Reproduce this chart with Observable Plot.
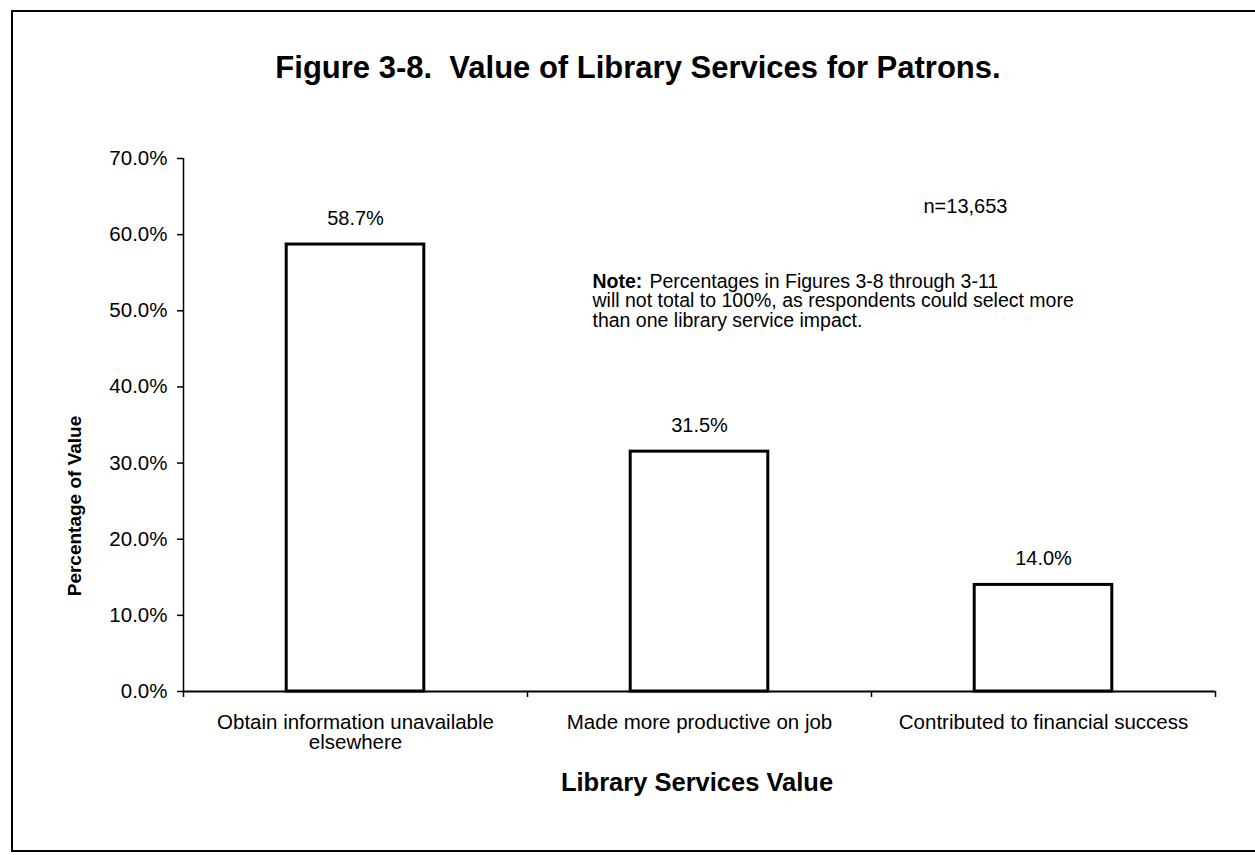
<!DOCTYPE html>
<html>
<head>
<meta charset="utf-8">
<script src="https://cdn.jsdelivr.net/npm/d3@7"></script>
<script src="https://cdn.jsdelivr.net/npm/@observablehq/plot@0.6"></script>
<style>
  html, body { margin: 0; padding: 0; background: #fff; }
  #page {
    position: relative; width: 1255px; height: 855px; overflow: hidden;
    font-family: "Liberation Sans", Arial, sans-serif; color: #000; background: #fff;
  }
  #border {
    position: absolute; left: 11px; top: 10px; width: 1270px; height: 842px;
    border: 2px solid #000; border-right: none; box-sizing: border-box; pointer-events: none;
  }
  #title {
    height: 100px; box-sizing: border-box; padding-top: 53px; padding-left: 21px;
    text-align: center; font-weight: bold; font-size: 31px; line-height: 30px; white-space: pre;
  }
  #ytitle {
    position: absolute; left: 74px; top: 506px; white-space: nowrap;
    font-weight: bold; font-size: 19px; line-height: 19px;
    transform: translate(-50%, -50%) rotate(-90deg);
  }
  #chart svg { display: block; }
</style>
</head>
<body>
<div id="page">
  <div id="title">Figure 3-8.  Value of Library Services for Patrons.</div>
  <div id="chart"></div>
  <div id="ytitle"></div>
  <div id="border"></div>
</div>
<script>
// Survey responses: share of patrons reporting each kind of value
const categories = [
  "Obtain information unavailable elsewhere",
  "Made more productive on job",
  "Contributed to financial success"
];
const categoryLabels = [
  "Obtain information unavailable\nelsewhere",
  "Made more productive on job",
  "Contributed to financial success"
];
const percentages = [58.7, 31.5, 14.0];
const yTicks = [0, 10, 20, 30, 40, 50, 60, 70];

const sampleLabel = "n=13,653";
const noteHead = "Note:";
const noteFirst = "Percentages in Figures 3-8 through 3-11";
const noteRest = "will not total to 100%, as respondents could select more\nthan one library service impact.";
const xTitle = "Library Services Value";
const yTitle = "Percentage of Value";

const data = categories.map((category, i) => ({category, value: percentages[i]}));

const W = 1255, H = 755;
const mL = 183, mR = 40, mT = 58, mB = 164;
// band step: inner padding 0.6 and outer 0.3 make each category slot exactly width/n
const step = (W - mL - mR) / categories.length;
const font = "'Liberation Sans', Arial, sans-serif";

document.getElementById("ytitle").textContent = yTitle;

const chart = Plot.plot({
  width: W,
  height: H,
  marginTop: mT,
  marginBottom: mB,
  marginLeft: mL,
  marginRight: mR,
  style: {fontFamily: font, fontSize: "20px", color: "black", background: "white", overflow: "visible"},
  x: {domain: categories, paddingInner: 0.6, paddingOuter: 0.3, round: false, axis: null},
  y: {domain: [0, 70], axis: null},
  marks: [
    Plot.barY(data, {x: "category", y: "value", fill: "white", stroke: "black", strokeWidth: 3}),
    // axis lines
    Plot.ruleY([0], {stroke: "black", strokeWidth: 2}),
    Plot.ruleX([categories[0]], {x: d => d, dx: -step / 2, y1: 0, y2: 70, stroke: "black", strokeWidth: 1.5}),
    // y ticks and labels
    Plot.axisY(yTicks, {
      tickSize: 6, tickPadding: 10, strokeWidth: 1.5, fontSize: 20.5,
      tickFormat: d => d.toFixed(1) + "%", label: null
    }),
    // category labels centred under each bar
    Plot.axisX(categories, {
      tickSize: 0, tickPadding: 22.5, fontSize: 20.5, lineHeight: 1,
      tickFormat: d => categoryLabels[categories.indexOf(d)], label: null
    }),
    // tick marks on the category boundaries
    Plot.axisX(categories, {tickSize: 6, dx: -step / 2, strokeWidth: 1.5, fill: "none", label: null}),
    Plot.axisX([categories[categories.length - 1]], {tickSize: 6, dx: step / 2, strokeWidth: 1.5, fill: "none", label: null}),
    // value labels above the bars
    Plot.text(data, {
      x: "category", y: "value", text: d => d.value.toFixed(1) + "%",
      dy: -20, lineAnchor: "bottom", fontSize: 20
    }),
    // annotations
    Plot.text([sampleLabel], {frameAnchor: "top-left", textAnchor: "start", lineAnchor: "bottom", dx: 740, dy: 54, fontSize: 20}),
    Plot.text([noteHead], {frameAnchor: "top-left", textAnchor: "start", lineAnchor: "bottom", dx: 409, dy: 129, fontSize: 19.5, fontWeight: "bold"}),
    Plot.text([noteFirst], {frameAnchor: "top-left", textAnchor: "start", lineAnchor: "bottom", dx: 466, dy: 129, fontSize: 19.5}),
    Plot.text([noteRest], {frameAnchor: "top-left", textAnchor: "start", lineAnchor: "bottom", dx: 409, dy: 168, fontSize: 19.5, lineHeight: 1}),
    // x axis title
    Plot.text([xTitle], {frameAnchor: "bottom", dx: -2.5, dy: 99, lineAnchor: "bottom", fontSize: 25.5, fontWeight: "bold"})
  ]
});

document.getElementById("chart").appendChild(chart);
</script>
</body>
</html>
